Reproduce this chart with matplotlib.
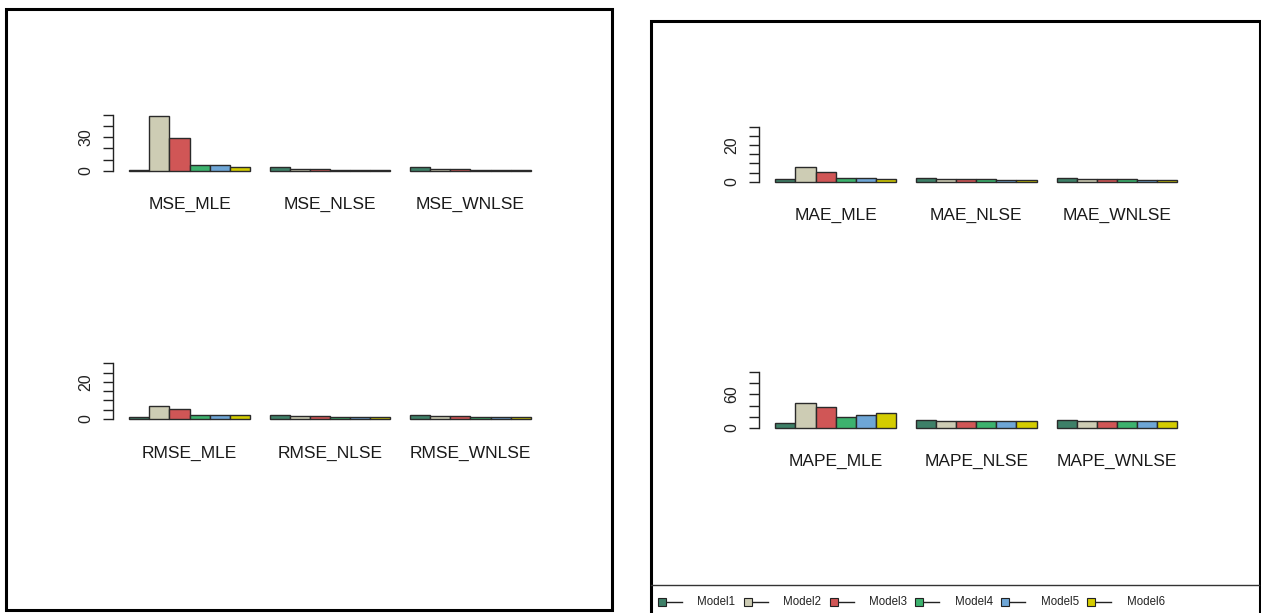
import matplotlib
matplotlib.use("Agg")
import matplotlib.pyplot as plt
from matplotlib.patches import Rectangle
from matplotlib.lines import Line2D
import numpy as np

plt.rcParams['font.family'] = ['Liberation Sans', 'DejaVu Sans']

W, H = 1261, 613
DPI = 100

models = ["Model1", "Model2", "Model3", "Model4", "Model5", "Model6"]
colors = ["#3e8068", "#cdccb4", "#d05656", "#3cb26e", "#6ea6d6", "#d4cc00"]

mse_cats = ["MSE_MLE", "MSE_NLSE", "MSE_WNLSE"]
mse_vals = [[0.8, 49.5, 29.2, 4.8, 4.8, 3.6],
            [3.0, 1.8, 1.8, 0.4, 0.4, 0.4],
            [3.0, 1.8, 1.8, 0.4, 0.4, 0.4]]

rmse_cats = ["RMSE_MLE", "RMSE_NLSE", "RMSE_WNLSE"]
rmse_vals = [[1.2, 7.0, 5.5, 2.2, 2.2, 1.9],
             [1.9, 1.6, 1.6, 1.0, 1.0, 1.0],
             [1.9, 1.6, 1.6, 1.0, 1.0, 1.0]]

mae_cats = ["MAE_MLE", "MAE_NLSE", "MAE_WNLSE"]
mae_vals = [[1.5, 7.8, 5.3, 1.8, 2.0, 1.4],
            [2.0, 1.4, 1.4, 1.4, 0.9, 0.9],
            [2.1, 1.4, 1.4, 1.4, 0.9, 0.9]]

mape_cats = ["MAPE_MLE", "MAPE_NLSE", "MAPE_WNLSE"]
mape_vals = [[8.4, 45.0, 37.3, 19.8, 22.2, 26.5],
             [13.8, 12.0, 12.0, 12.0, 12.0, 12.0],
             [14.0, 12.0, 12.0, 12.0, 12.0, 12.0]]

# y-axis settings: (max, tick step, labelled ticks)
mse_axis = (50, 10, [0, 30])
rmse_axis = (30, 5, [0, 20])
mae_axis = (30, 5, [0, 20])
mape_axis = (100, 20, [0, 60])

fig = plt.figure(figsize=(W / DPI, H / DPI), dpi=DPI)


def px_rect(x0, x1, ytop, ybot):
    return [x0 / W, 1 - ybot / H, (x1 - x0) / W, (ybot - ytop) / H]


def draw_panel(rect, cats, vals, axis):
    ymax, step, labelled = axis
    ax = fig.add_axes(rect)
    ax.set_xlim(0.2, 21.8)
    ax.set_ylim(0, ymax)
    for s in ["top", "right", "bottom"]:
        ax.spines[s].set_visible(False)
    ax.spines["left"].set_linewidth(1.0)
    ax.spines["left"].set_color("#222222")
    nm = len(models)
    for g in range(len(cats)):
        start = 1 + g * (nm + 1)
        xs = start + np.arange(nm)
        ax.bar(xs, vals[g], width=1.0, align="edge", color=colors,
               edgecolor="#2a2a2a", linewidth=1.0, clip_on=False)
        ax.annotate(cats[g], xy=(start + nm / 2, 0),
                    xycoords=("data", "data"), xytext=(0, -34),
                    textcoords="offset pixels", ha="center", va="center",
                    fontsize=12.5, color="#1a1a1a")
    ax.set_xticks([])
    ticks = np.arange(0, ymax + step / 2, step)
    ax.set_yticks(labelled)
    ax.set_yticks([t for t in ticks if t not in labelled], minor=True)
    ax.tick_params(axis="y", which="both", direction="out", length=7.2,
                   width=1.0, color="#222222")
    ax.tick_params(axis="y", which="major", labelsize=11.5, pad=7,
                   labelcolor="#222222")
    for lab in ax.get_yticklabels():
        lab.set_rotation(90)
        lab.set_va("center")
    ax.patch.set_alpha(0)
    return ax


draw_panel(px_rect(113.3, 546.7, 115, 170.7), mse_cats, mse_vals, mse_axis)
draw_panel(px_rect(113.3, 546.7, 363.3, 419), rmse_cats, rmse_vals, rmse_axis)
draw_panel(px_rect(759.3, 1193.3, 126.7, 181.7), mae_cats, mae_vals, mae_axis)
draw_panel(px_rect(759.3, 1193.3, 372.3, 427.7), mape_cats, mape_vals, mape_axis)


def fx(x):
    return x / W


def fy(y):
    return 1 - y / H


# panel borders
fig.patches.append(Rectangle((fx(6.2), fy(609.5)), fx(612.2) - fx(6.2),
                             fy(8.7) - fy(609.5), transform=fig.transFigure,
                             fill=False, edgecolor="black", linewidth=2.2))
fig.patches.append(Rectangle((fx(650.5), fy(640)), fx(1259.5) - fx(650.5),
                             fy(20.7) - fy(640), transform=fig.transFigure,
                             fill=False, edgecolor="black", linewidth=2.2,
                             clip_on=False))
# legend separator
fig.lines.append(Line2D([fx(651), fx(1259)], [fy(584.8), fy(584.8)],
                        transform=fig.transFigure, color="#333333",
                        linewidth=1.0))

# legend
ly = fy(602)
for i, (m, c) in enumerate(zip(models, colors)):
    sx = 661.7 + i * 85.9
    fig.lines.append(Line2D([fx(sx), fx(sx + 20)], [ly, ly],
                            transform=fig.transFigure, color="#222222",
                            linewidth=1.0))
    fig.lines.append(Line2D([fx(sx)], [ly], transform=fig.transFigure,
                            marker="s", markersize=5.2, markerfacecolor=c,
                            markeredgecolor="#222222", markeredgewidth=0.8,
                            linestyle="none"))
    fig.text(fx(sx + 35.5), ly, m, ha="left", va="center", fontsize=8.3,
             color="#222222")

fig.savefig("out.png", dpi=DPI)
